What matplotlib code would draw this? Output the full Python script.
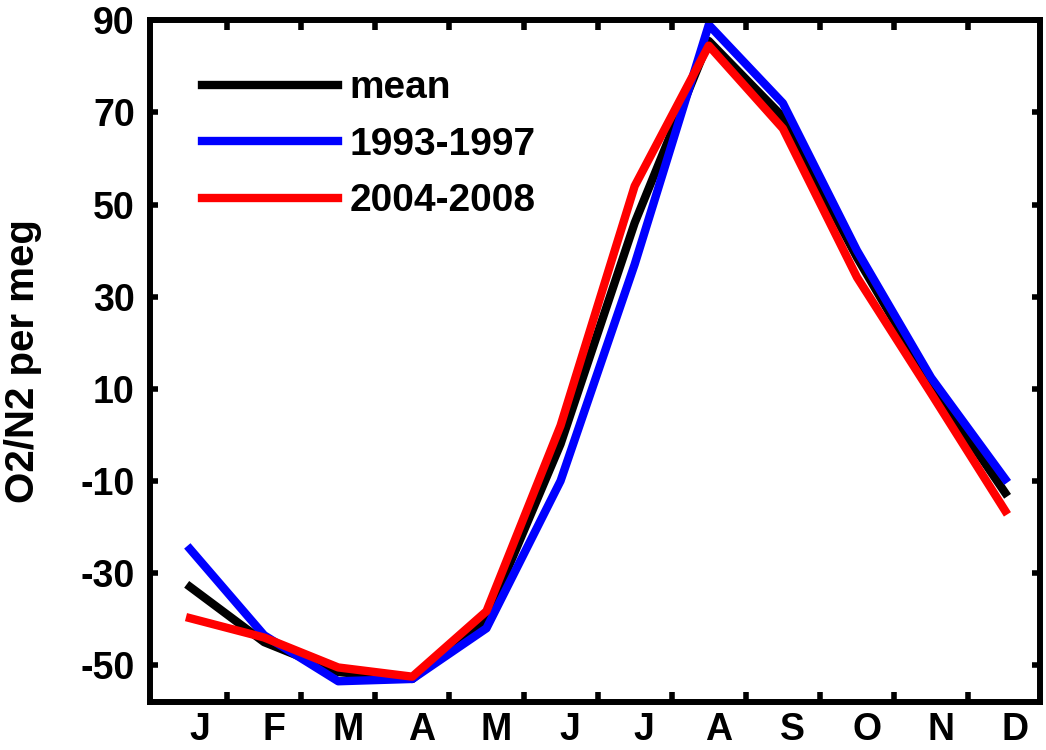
import matplotlib
matplotlib.use("Agg")
import matplotlib.pyplot as plt

plt.rcParams['font.family'] = ['Liberation Sans', 'DejaVu Sans']
plt.rcParams['font.weight'] = 'bold'

# monthly O2/N2 seasonal cycle (per meg)
months = ['J', 'F', 'M', 'A', 'M', 'J', 'J', 'A', 'S', 'O', 'N', 'D']
month_idx = list(range(1, 13))
mean_vals = [-33, -45, -51.5, -53, -40, -2, 46, 85.5, 69, 38.5, 11, -12.6]
early_vals = [-24.8, -43.5, -53.5, -53, -42, -10, 37, 89, 72, 40, 12.4, -9.6]
late_vals = [-39.8, -44, -50.5, -52.5, -38.3, 2, 54, 84.5, 66.5, 34.2, 9, -16.5]
yticks = [90, 70, 50, 30, 10, -10, -30, -50]

fig = plt.figure(figsize=(10.46, 7.5), dpi=100)
ax = fig.add_axes([0.1434, 0.064, 0.8509, 0.909])

ax.plot(month_idx, mean_vals, color='black', lw=6, label='mean')
ax.plot(month_idx, early_vals, color='#0000ff', lw=6, label='1993-1997')
ax.plot(month_idx, late_vals, color='#ff0000', lw=6, label='2004-2008')

ax.set_xlim(0.46, 12.47)
ax.set_ylim(-58, 90)

# month boundaries get the ticks, month names sit between them
ax.set_xticks([m + 0.5 for m in month_idx[:-1]])
ax.set_xticklabels([])
ax.set_xticks([m + 0.13 for m in month_idx], minor=True)
ax.set_xticklabels(months, minor=True, fontsize=27, fontweight='bold')
ax.tick_params(axis='x', which='minor', length=0, pad=7)
ax.tick_params(axis='x', which='major', direction='in', length=7, width=4,
               top=True, bottom=True)

ax.set_yticks(yticks)
ax.set_yticklabels([str(v) for v in yticks], fontsize=27, fontweight='bold')
ax.tick_params(axis='y', direction='in', length=6, width=4, left=True,
               right=True, pad=11)

for sp in ax.spines.values():
    sp.set_linewidth(4.3)

ax.set_ylabel('O2/N2 per meg', fontsize=29, fontweight='bold', labelpad=28)

leg = ax.legend(loc='upper left', frameon=False, fontsize=28,
                handlelength=3.5, handletextpad=0.3, labelspacing=0.53,
                bbox_to_anchor=(0.019, 0.978))
for t in leg.get_texts():
    t.set_fontweight('bold')

fig.savefig('out.png', dpi=100)
